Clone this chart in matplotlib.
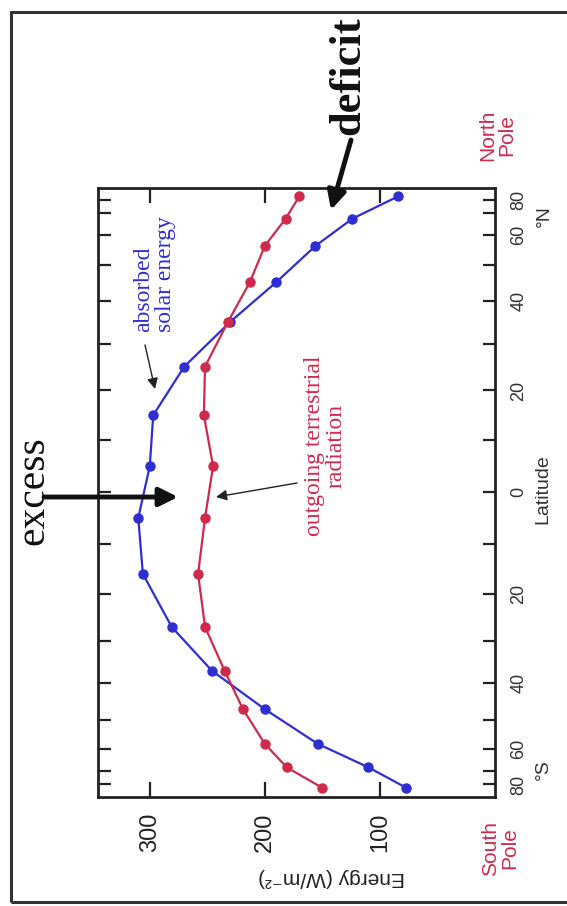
import matplotlib.pyplot as plt
import numpy as np
from matplotlib.patches import Rectangle

# picture size in pixels, used to place the free text
W, H = 567, 906


def fp(x, y):
    # pixel position (from top left) -> figure fraction
    return (x / W, 1 - y / H)


# data (south -> north)
lat = [-85, -68, -58, -47, -37, -27, -16, -5, 5, 15, 25, 35, 45, 56, 67, 85]
solar = [77, 110, 154, 200, 246, 281, 306, 310, 300, 297, 270, 230, 190, 156, 124, 84]
outgoing = [150, 181, 200, 219, 235, 252, 258, 252, 245, 253, 252, 232, 213, 200, 182, 170]

energy_ticks = [100, 200, 300]
lat_ticks = np.arange(-80, 81, 10)
lat_labels = [str(abs(t)) if t % 20 == 0 else '' for t in lat_ticks]

blue = '#2e2ed2'
red = '#cf2a4c'
serif = ['Liberation Serif', 'DejaVu Serif']
sans = ['Liberation Sans', 'DejaVu Sans']

fig = plt.figure(figsize=(5.67, 9.06), dpi=100)
ax = fig.add_axes([98 / W, 109 / H, 397 / W, 609 / H])

# latitude axis is area weighted (sine of latitude)
s = np.sin(np.radians(lat))
ax.plot(solar, s, '-o', color=blue, lw=1.6, ms=6.5)
ax.plot(outgoing, s, '-o', color=red, lw=1.6, ms=6.5)

ax.set_xlim(345, 0)
ax.set_ylim(-1.027, 1.024)

ax.set_xticks(energy_ticks)
ax.tick_params(axis='x', direction='in', length=11, width=1.6, top=True,
               labelsize=17, pad=11, labelrotation=90, colors='#222')
ax.set_yticks(np.sin(np.radians(lat_ticks)))
ax.set_yticklabels(lat_labels)
ax.tick_params(axis='y', direction='in', length=9, width=1.6, left=True, right=True,
               labelleft=False, labelright=True, labelsize=13, pad=11,
               labelrotation=90, colors='#222')
for t in ax.get_yticklabels():
    t.set_va('center')
    t.set_color('#333')
for t in ax.get_xticklabels() + ax.get_yticklabels():
    t.set_family(sans)
for sp in ax.spines.values():
    sp.set_linewidth(2)
    sp.set_color('#222')

# outer frame of the slide
fig.patches.append(Rectangle(fp(11, 902), 600 / W, 890 / H, transform=fig.transFigure,
                             fill=False, lw=2.2, edgecolor='#333'))

# axis texts
fig.text(*fp(332, 877), 'Energy (W/m⁻²)', rotation=180, ha='center', va='center',
         fontsize=15, family=sans, color='#222')
fig.text(*fp(543, 489), 'Latitude', rotation=90, ha='center', va='center',
         fontsize=14, family=sans, color='#333')
fig.text(*fp(544, 216), '°N', rotation=90, ha='center', va='center',
         fontsize=14, family=sans, color='#333')
fig.text(*fp(543, 770), '°S', rotation=90, ha='center', va='center',
         fontsize=14, family=sans, color='#333')
fig.text(*fp(497, 135), 'North\nPole', rotation=90, ha='center', va='center',
         fontsize=15, family=sans, color=red, linespacing=1.0)
fig.text(*fp(500, 848), 'South\nPole', rotation=90, ha='center', va='center',
         fontsize=15, family=sans, color=red, linespacing=1.0)

# annotations
fig.text(*fp(348, 76), 'deficit', rotation=90, ha='center', va='center',
         fontsize=32, family=serif, weight='bold', color='#111')
fig.text(*fp(33, 491), 'excess', rotation=90, ha='center', va='center',
         fontsize=30, family=serif, color='#111')
fig.text(*fp(155, 332), 'absorbed\nsolar energy', rotation=90, ha='center', va='bottom',
         fontsize=17, family=serif, color=blue, linespacing=1.05, multialignment='left')
fig.text(*fp(325, 446), 'outgoing terrestrial\nradiation', rotation=90, ha='center',
         va='center', fontsize=17, family=serif, color=red, linespacing=1.0,
         multialignment='center')

big = dict(arrowstyle='-|>', lw=3.5, color='#111', mutation_scale=28, shrinkA=0, shrinkB=0)
thin = dict(arrowstyle='-|>', lw=1.0, color='#222', mutation_scale=16, shrinkA=0, shrinkB=0)
ax.annotate('', xy=fp(178, 497), xytext=fp(44, 497), xycoords='figure fraction',
            textcoords='figure fraction', arrowprops=big, annotation_clip=False)
ax.annotate('', xy=fp(331, 210), xytext=fp(351, 140), xycoords='figure fraction',
            textcoords='figure fraction', arrowprops=big, annotation_clip=False)
ax.annotate('', xy=fp(155, 389), xytext=fp(145, 345), xycoords='figure fraction',
            textcoords='figure fraction', arrowprops=thin, annotation_clip=False)
ax.annotate('', xy=fp(216, 497), xytext=fp(297, 483), xycoords='figure fraction',
            textcoords='figure fraction', arrowprops=thin, annotation_clip=False)

fig.savefig('out.png', dpi=100)
